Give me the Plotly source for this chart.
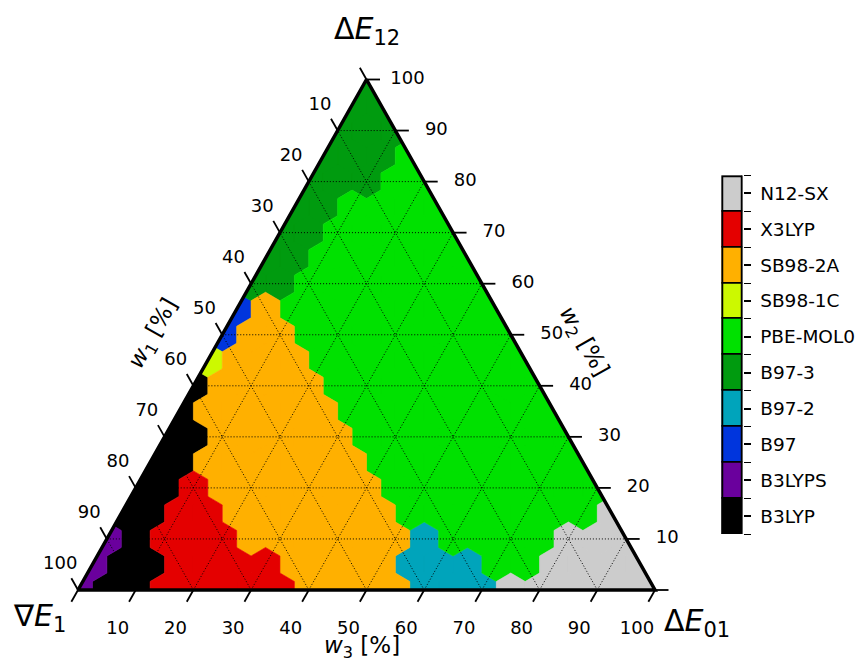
import plotly.graph_objects as go

# Functionals in colour-bar order (bottom to top), their colours and one-letter codes
functionals = ["B3LYP", "B3LYPS", "B97", "B97-2", "B97-3",
               "PBE-MOL0", "SB98-1C", "SB98-2A", "X3LYP", "N12-SX"]
colors = ["#000000", "#6a009d", "#0035dd", "#00a4bb", "#009b0f",
          "#00e100", "#ccf900", "#ffb000", "#e40000", "#cccccc"]
codes = ["K", "P", "B", "T", "D", "G", "Y", "O", "R", "N"]

# Best functional on a 5 % grid. One string per w2 level; characters run
# over w3 = 0, 5, ..., 100 - w2 (w1 = 100 - w2 - w3).
w2_levels = list(range(0, 101, 5))
best_rows = [
    "PKKRRRRROOOOTTTNNNNNN",  # w2 = 0
    "PKKRRRROOOOTTTGGNNNN",   # w2 = 5
    "PKRRROOOOOOTGGGGNNN",    # w2 = 10
    "KKRROOOOOOGGGGGGGN",     # w2 = 15
    "KKROOOOOOGGGGGGGG",      # w2 = 20
    "KKOOOOOOGGGGGGGG",       # w2 = 25
    "KKOOOOOGGGGGGGG",        # w2 = 30
    "KOOOOOGGGGGGGG",         # w2 = 35
    "KOOOOGGGGGGGG",          # w2 = 40
    "YOOOGGGGGGGG",           # w2 = 45
    "BOOGGGGGGGG",            # w2 = 50
    "BOGGGGGGGG",             # w2 = 55
    "DDGGGGGGG",              # w2 = 60
    "DDGGGGGG",               # w2 = 65
    "DDGGGGG",                # w2 = 70
    "DDGGGG",                 # w2 = 75
    "DDDGG",                  # w2 = 80
    "DDDG",                   # w2 = 85
    "DDD",                    # w2 = 90
    "DD",                     # w2 = 95
    "D",                      # w2 = 100
]
grid_step = 5
tick_values = list(range(0, 101, 10))
tick_labels = [str(v) if v > 0 else "" for v in tick_values]

FONT = "DejaVu Sans"
W, H = 860, 662
# pixel geometry of the triangle: bottom-left corner and scale per percent
X0_PX, Y0_PX = 78.0, 590.0
SX, SY = 5.77, 5.105


def to_xy(w2, w3):
    """Ternary (w2, w3) -> cartesian plot coordinates (x = w3 + w2/2, y = w2)."""
    return w3 + w2 / 2.0, float(w2)


def clip(poly):
    """Clip a polygon to the simplex w1, w2, w3 >= 0."""
    planes = [lambda p: p[1],                      # w2
              lambda p: p[0] - p[1] / 2.0,         # w3
              lambda p: 100.0 - p[0] - p[1] / 2.0]  # w1
    for f in planes:
        out = []
        n = len(poly)
        for i in range(n):
            a, b = poly[i], poly[(i + 1) % n]
            fa, fb = f(a), f(b)
            if fa >= 0:
                out.append(a)
            if (fa >= 0) != (fb >= 0):
                t = fa / (fa - fb)
                out.append((a[0] + t * (b[0] - a[0]), a[1] + t * (b[1] - a[1])))
        poly = out
        if not poly:
            break
    return poly


h = grid_step / 2.0
hex_offsets = [(0, 2 * grid_step / 3), (h, grid_step / 3), (h, -grid_step / 3),
               (0, -2 * grid_step / 3), (-h, -grid_step / 3), (-h, grid_step / 3)]

cells = {c: ([], []) for c in codes}
for w2, row in zip(w2_levels, best_rows):
    for j, code in enumerate(row):
        cx, cy = to_xy(w2, j * grid_step)
        poly = clip([(cx + dx, cy + dy) for dx, dy in hex_offsets])
        xs, ys = cells[code]
        xs.extend([p[0] for p in poly] + [poly[0][0], None])
        ys.extend([p[1] for p in poly] + [poly[0][1], None])

fig = go.Figure()
for code, name, col in zip(codes, functionals, colors):
    xs, ys = cells[code]
    if not xs:
        continue
    fig.add_trace(go.Scatter(x=xs, y=ys, mode="lines", fill="toself",
                             fillcolor=col, line=dict(color=col, width=0.6),
                             name=name, hoverinfo="skip", showlegend=False))

# dotted grid lines every 10 %
gx, gy = [], []
for c in range(10, 100, 10):
    for a, b in [((c, 0), (c, 100 - c)),            # constant w2
                 ((0, c), (100 - c, c)),            # constant w3
                 ((0, 100 - c), (100 - c, 0))]:     # constant w1
        p, q = to_xy(*a), to_xy(*b)
        gx += [p[0], q[0], None]
        gy += [p[1], q[1], None]
fig.add_trace(go.Scatter(x=gx, y=gy, mode="lines", hoverinfo="skip",
                         line=dict(color="black", width=1, dash="1px,2px"),
                         showlegend=False))

# ticks: extensions of the grid lines beyond the edges
TL = 13.5  # tick length in px
tx, ty = [], []
dirs = {"w1": (-0.5, 1.0), "w2": (1.0, 0.0), "w3": (-0.5, -1.0)}


def unit_px(d):
    lx, ly = d[0] * SX, d[1] * SY
    n = (lx ** 2 + ly ** 2) ** 0.5
    return d[0] * TL / n, d[1] * TL / n


for v in tick_values:
    bases = {"w1": to_xy(100 - v, 0), "w2": to_xy(v, 100 - v), "w3": to_xy(0, v)}
    for k, (bx, by) in bases.items():
        dx, dy = unit_px(dirs[k])
        tx += [bx, bx + dx, None]
        ty += [by, by + dy, None]
fig.add_trace(go.Scatter(x=tx, y=ty, mode="lines", hoverinfo="skip",
                         line=dict(color="black", width=1.8), showlegend=False))

# triangle outline
corners = [to_xy(0, 0), to_xy(0, 100), to_xy(100, 0), to_xy(0, 0)]
fig.add_trace(go.Scatter(x=[p[0] for p in corners], y=[p[1] for p in corners],
                         mode="lines", hoverinfo="skip",
                         line=dict(color="black", width=3.5), showlegend=False))

# tick labels (offsets in px from the tick base)
label_offsets = {"w1": (-17.7, -25.5), "w2": (41.0, 0.0), "w3": (-18.0, 39.0)}
lx, ly, lt = [], [], []
for v, s in zip(tick_values, tick_labels):
    if not s:
        continue
    bases = {"w1": to_xy(100 - v, 0), "w2": to_xy(v, 100 - v), "w3": to_xy(0, v)}
    for k, (bx, by) in bases.items():
        ox, oy = label_offsets[k]
        lx.append(bx + ox / SX)
        ly.append(by - oy / SY)
        lt.append(s)
fig.add_trace(go.Scatter(x=lx, y=ly, text=lt, mode="text", hoverinfo="skip",
                         textfont=dict(family=FONT, size=18, color="black"),
                         textposition="middle center", showlegend=False))


# corner and axis titles
def px_to_data(px, py):
    return (px - X0_PX) / SX, (Y0_PX - py) / SY


titles = [
    ("Δ<i>E</i><sub>12</sub>", 367, 30, 0, 30),
    ("∇<i>E</i><sub>1</sub>", 39, 617, 0, 30),
    ("Δ<i>E</i><sub>01</sub>", 697, 622, 0, 30),
    ("<i>w</i><sub>1</sub> [%]", 154, 334, -60.5, 23),
    ("<i>w</i><sub>2</sub> [%]", 583, 342, 60.5, 23),
    ("<i>w</i><sub>3</sub> [%]", 362, 647, 0, 23),
]
for text, px, py, ang, size in titles:
    x, y = px_to_data(px, py)
    fig.add_annotation(x=x, y=y, xref="x", yref="y", text=text, showarrow=False,
                       textangle=ang, font=dict(family=FONT, size=size, color="black"),
                       xanchor="center", yanchor="middle")

# colour bar drawn as a stacked bar on its own axes
fig.add_trace(go.Bar(x=[0] * len(functionals), y=[1] * len(functionals),
                     marker=dict(color=colors, line=dict(color="black", width=1.5)),
                     width=1.0, xaxis="x2", yaxis="y2", hoverinfo="skip",
                     showlegend=False))
fig.add_shape(type="rect", xref="x2", yref="y2", x0=-0.5, x1=0.5, y0=0,
              y1=len(functionals), line=dict(color="black", width=3.5))

fig.update_layout(
    width=W, height=H, autosize=False, margin=dict(l=0, r=0, t=0, b=0),
    paper_bgcolor="white", plot_bgcolor="rgba(0,0,0,0)", barmode="stack", bargap=0,
    xaxis=dict(range=[-X0_PX / SX, (W - X0_PX) / SX], domain=[0, 1], visible=False),
    yaxis=dict(range=[-(H - Y0_PX) / SY, Y0_PX / SY], domain=[0, 1], visible=False),
    xaxis2=dict(range=[-0.5, 0.5], domain=[721.5 / W, 742.5 / W], visible=False,
                anchor="y2"),
    yaxis2=dict(range=[0, len(functionals)],
                domain=[1 - 534 / H, 1 - 175.5 / H], anchor="x2", side="right",
                showgrid=False, zeroline=False, showline=False,
                tickvals=[i + 0.5 for i in range(len(functionals))],
                ticktext=functionals, ticks="outside", ticklen=7, tickwidth=2.2,
                tickcolor="black", ticklabelstandoff=6,
                minor=dict(tickvals=list(range(len(functionals) + 1)), ticks="outside",
                           ticklen=7, tickwidth=1.2, tickcolor="black"),
                tickfont=dict(family=FONT, size=18.5, color="black")),
)

fig.write_html("out.html")
